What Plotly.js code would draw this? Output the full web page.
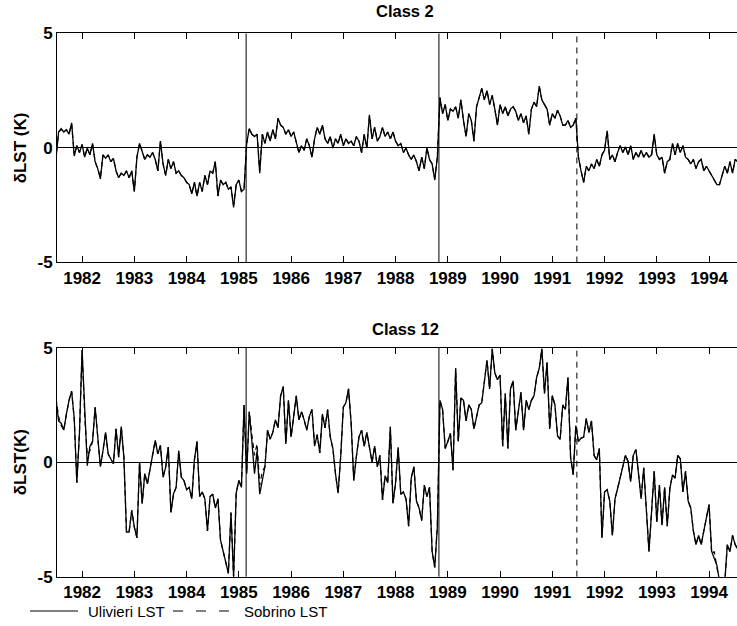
<!DOCTYPE html>
<html><head><meta charset="utf-8">
<script src="https://cdn.plot.ly/plotly-3.0.1.min.js"></script>
<style>html,body{margin:0;padding:0;background:#fff;} #chart{width:737px;height:626px;}</style>
</head><body><div id="chart"></div>
<script>
// sampling of the series (years)
const startYear = 1981.5;
const stepYear = 0.05;

// Class 2, Ulivieri LST (K)
const class2Ulivieri = [
 -0.5,0.7,0.85,0.7,0.8,0.6,1.1,-0.35,0.1,-0.2,
 0.15,-0.4,0.0,-0.3,0.2,-0.6,-0.9,-1.35,-0.3,-0.45,-0.3,-0.6,-0.45,-1.0,-1.3,-1.1,-1.2,-1.0,-1.3,-1.0,
 -1.9,-0.4,0.2,-0.2,-0.5,-0.3,-0.4,-0.2,-0.5,-1.0,0.3,-0.7,-1.2,-0.5,-0.9,-0.6,-1.1,-1.0,-1.2,-1.3,
 -1.5,-1.6,-2.0,-1.5,-2.1,-1.5,-1.9,-1.2,-1.6,-1.0,-1.1,-0.6,-2.1,-1.4,-1.6,-1.5,-1.8,-1.7,-2.6,-1.6,
 -1.4,-1.9,-1.8,0.2,0.85,0.6,0.5,0.6,-1.1,0.6,0.2,0.7,0.3,0.8,0.4,1.3,1.0,0.9,0.6,0.8,
 0.5,0.7,0.2,-0.2,0.1,-0.1,0.4,0.1,-0.4,0.4,0.9,0.6,1.0,0.4,0.2,0.5,0.0,0.4,0.2,0.6,
 0.1,0.4,0.2,0.3,0.1,0.5,0.3,-0.2,0.6,0.0,1.45,0.4,0.9,0.3,0.5,0.9,0.5,0.7,0.4,0.7,
 0.3,0.1,0.2,-0.2,0.0,-0.3,-0.5,-0.3,-0.6,-1.0,-0.4,-0.9,0.0,-0.5,-0.7,-1.4,-0.4,2.2,1.5,1.9,
 1.2,1.7,1.6,1.8,1.3,2.1,1.2,0.5,1.5,1.2,0.3,1.8,2.2,2.6,2.1,2.5,1.9,2.3,1.7,1.0,
 1.9,1.5,1.8,1.4,1.7,1.8,1.6,1.2,1.5,1.1,1.4,0.6,1.7,2.0,1.8,2.7,2.1,1.9,1.7,1.0,
 1.5,1.3,1.65,1.4,1.0,1.0,1.2,0.9,1.0,1.3,-0.4,-1.0,-1.5,-0.8,-1.0,-0.7,-0.9,-0.5,-0.8,-0.3,
 -0.1,0.75,-0.5,-0.3,-0.6,-0.2,0.1,-0.2,0.05,-0.3,0.1,-0.5,-0.2,-0.4,-0.1,-0.4,-0.2,-0.4,-0.3,0.6,
 -0.3,-0.5,-0.4,-1.1,-0.6,-0.5,0.2,-0.3,0.2,-0.2,0.1,-0.4,-0.5,-0.7,-0.5,-0.9,-0.6,-0.5,-1.0,-0.8,
 -1.0,-1.2,-1.4,-1.6,-1.6,-1.2,-0.8,-1.1,-0.6,-1.1,-0.5,-0.6
];

// Class 2, Sobrino LST (K)
const class2Sobrino = [
 -0.5,0.7,0.8,0.7,0.8,0.6,1.05,-0.3,0.1,-0.2,
 0.15,-0.4,0.0,-0.3,0.2,-0.6,-0.9,-1.3,-0.3,-0.45,-0.3,-0.6,-0.45,-1.0,-1.3,-1.1,-1.2,-1.0,-1.3,-1.0,
 -1.9,-0.4,0.2,-0.2,-0.5,-0.3,-0.4,-0.2,-0.5,-1.0,0.3,-0.7,-1.2,-0.5,-0.9,-0.6,-1.1,-1.0,-1.2,-1.3,
 -1.5,-1.6,-2.0,-1.5,-2.1,-1.5,-1.9,-1.2,-1.6,-1.0,-1.1,-0.6,-2.1,-1.4,-1.6,-1.5,-1.8,-1.7,-2.5,-1.6,
 -1.4,-1.9,-1.8,0.2,0.85,0.6,0.5,0.6,-1.0,0.6,0.2,0.7,0.3,0.8,0.4,1.3,1.0,0.9,0.6,0.8,
 0.5,0.7,0.2,-0.2,0.1,-0.1,0.4,0.1,-0.4,0.4,0.9,0.6,1.0,0.4,0.2,0.5,0.0,0.4,0.2,0.6,
 0.1,0.4,0.2,0.3,0.1,0.5,0.3,-0.2,0.6,0.0,1.4,0.4,0.9,0.3,0.5,0.9,0.5,0.7,0.4,0.7,
 0.3,0.1,0.2,-0.2,0.0,-0.3,-0.5,-0.3,-0.6,-1.0,-0.4,-0.9,0.0,-0.5,-0.7,-1.35,-0.4,2.2,1.5,1.9,
 1.2,1.7,1.6,1.8,1.3,2.1,1.2,0.5,1.5,1.2,0.3,1.8,2.2,2.6,2.1,2.5,1.9,2.3,1.7,1.0,
 1.9,1.5,1.8,1.4,1.7,1.8,1.6,1.2,1.5,1.1,1.4,0.6,1.7,2.0,1.8,2.7,2.1,1.9,1.7,1.0,
 1.5,1.3,1.65,1.4,1.0,1.0,1.2,0.9,1.0,1.3,-0.4,-1.0,-1.5,-0.8,-1.0,-0.7,-0.9,-0.5,-0.8,-0.3,
 -0.1,0.75,-0.5,-0.3,-0.6,-0.2,0.1,-0.2,0.05,-0.3,0.1,-0.5,-0.2,-0.4,-0.1,-0.4,-0.2,-0.4,-0.3,0.6,
 -0.3,-0.5,-0.4,-1.1,-0.6,-0.5,0.2,-0.3,0.2,-0.2,0.1,-0.4,-0.5,-0.7,-0.5,-0.9,-0.6,-0.5,-1.0,-0.8,
 -1.0,-1.2,-1.4,-1.6,-1.6,-1.2,-0.8,-1.1,-0.6,-1.1,-0.5,-0.6
];

// Class 12, Ulivieri LST (K)
const class12Ulivieri = [
 2.8,1.8,1.7,1.4,2.1,2.7,3.1,1.9,-0.9,1.3,
 4.9,2.0,-0.15,0.7,0.9,2.4,1.1,-0.2,0.5,1.3,0.36,0.15,-0.07,1.46,0.22,1.55,0.22,-3.05,-3.05,-2.1,
 -2.84,-3.3,0.0,-1.8,-0.5,-0.95,-0.3,0.36,0.95,0.36,0.73,-0.66,-0.22,0.66,-2.2,-1.38,-1.1,0.5,-0.66,-0.8,
 -1.2,-1.1,-1.6,0.1,0.9,-1.5,-1.3,-1.6,-3.0,-1.5,-1.4,-2.0,-1.6,-3.4,-3.9,-4.3,-4.85,-2.2,-5.0,-1.35,
 -0.8,-1.1,2.5,-0.5,2.2,0.9,-0.5,0.5,-1.4,-0.8,-0.2,1.4,1.0,1.3,1.85,1.5,2.9,3.3,0.8,2.7,
 1.1,2.0,2.9,1.85,2.2,1.85,1.4,2.0,2.3,0.7,1.2,0.4,2.1,1.5,2.3,1.1,0.6,-0.5,-1.35,0.25,
 2.4,2.6,3.2,1.7,-0.8,0.25,1.1,1.4,0.7,1.3,0.55,0.0,0.7,-0.2,0.3,-1.65,-0.6,-0.9,1.55,-1.8,
 -0.9,0.65,-1.4,-1.3,-1.6,-2.8,-0.7,-0.2,-1.7,-2.0,-2.55,-1.0,-1.5,-1.1,-3.9,-4.6,-2.8,2.7,2.3,0.6,
 0.9,1.25,-0.35,4.1,0.9,2.8,2.7,1.8,2.5,2.3,1.45,2.0,2.5,2.6,3.6,4.45,3.2,4.95,3.9,3.6,
 3.8,0.7,3.0,0.6,3.2,3.55,1.4,2.3,3.05,1.4,2.7,2.3,2.7,2.9,3.7,4.1,4.95,3.0,4.35,1.45,
 2.9,2.5,1.15,1.0,2.5,2.3,3.7,0.2,-0.55,1.6,0.9,1.05,1.1,1.9,1.3,1.8,0.3,0.1,0.6,-3.3,
 -1.3,-1.2,-1.7,-3.2,-1.6,-1.15,-0.7,-0.2,0.3,0.03,-0.85,0.3,0.55,-0.5,-1.6,-0.25,-1.85,-3.9,-2.15,-0.4,
 -2.6,-1.0,-2.75,-1.1,-2.8,-1.15,-0.55,-0.7,0.3,0.15,-1.3,-0.4,-1.7,-2.0,-3.0,-3.6,-3.2,-3.6,-3.0,-2.4,
 -1.85,-3.9,-4.2,-4.5,-5.2,-5.3,-5.3,-3.6,-3.9,-3.2,-3.6,-3.8
];

// Class 12, Sobrino LST (K)
const class12Sobrino = [
 2.8,2.0,1.6,1.4,2.1,2.7,3.1,1.9,-0.9,1.3,
 4.9,2.0,0.3,0.5,0.9,2.4,1.1,-0.2,0.5,1.3,0.36,0.15,-0.07,1.46,0.22,1.55,0.22,-3.05,-3.05,-2.1,
 -2.84,-3.3,0.0,-1.8,-0.5,-0.95,-0.3,0.36,0.95,0.36,0.73,-0.66,-0.22,0.66,-2.2,-1.38,-1.1,0.5,-0.66,-0.8,
 -1.2,-1.1,-1.6,0.1,0.9,-1.5,-1.3,-1.6,-3.0,-1.5,-1.4,-2.0,-1.6,-3.4,-3.9,-4.3,-4.85,-2.2,-5.0,-1.35,
 -0.8,-1.1,2.5,-0.5,2.2,1.2,0.3,0.8,-1.0,-0.4,-0.2,1.4,1.0,1.3,1.85,1.5,2.9,3.3,0.8,2.7,
 1.1,2.0,2.9,1.85,2.2,1.85,1.4,2.0,2.3,0.8,1.2,0.4,2.1,1.5,2.3,1.1,0.6,-0.5,-1.35,0.25,
 2.4,2.6,3.2,1.7,-0.8,0.25,1.1,1.4,0.7,1.3,0.55,0.0,0.7,-0.2,0.3,-1.65,-0.6,-0.9,1.55,-1.8,
 -0.9,0.65,-1.4,-1.3,-1.6,-2.8,-0.7,-0.2,-1.7,-2.0,-2.55,-1.0,-1.5,-1.1,-3.9,-4.6,-2.8,2.7,2.3,0.6,
 0.9,1.25,-0.35,4.1,0.9,2.8,2.7,1.8,2.5,2.3,1.45,2.0,2.5,2.6,3.6,4.45,3.2,4.95,3.9,3.6,
 3.8,0.7,3.0,0.6,3.2,3.55,1.4,2.3,3.05,1.4,2.7,2.3,2.7,2.9,3.7,4.1,4.95,3.0,4.35,1.45,
 2.9,2.5,1.15,1.0,2.5,2.3,3.7,0.2,-0.55,1.6,0.9,1.05,1.1,1.9,1.3,1.8,0.3,0.1,0.6,-3.3,
 -1.3,-1.2,-1.7,-3.2,-1.6,-1.15,-0.7,-0.2,0.3,0.03,-0.85,0.3,0.55,-0.5,-1.6,-0.25,-1.85,-3.9,-2.15,-0.4,
 -2.6,-1.0,-2.75,-1.1,-2.8,-1.15,-0.55,-0.7,0.3,0.15,-1.3,-0.4,-1.7,-2.0,-3.0,-3.6,-3.2,-3.6,-3.0,-2.4,
 -1.85,-4.0,-3.9,-4.6,-5.2,-5.3,-5.3,-3.6,-3.9,-3.2,-3.6,-3.8
];

const yearTicks = [1982,1983,1984,1985,1986,1987,1988,1989,1990,1991,1992,1993,1994];
const yTickVals = [-5,0,5];
const yTickText = ['-5','0','5'];
const solidBreakYears = [1985.14, 1988.83];
const dashedBreakYears = [1991.47];
const panelTitles = ['Class 2','Class 12'];
const yTitles = ['\u03b4LST (K)','\u03b4LST(K)'];
const seriesNames = ['Ulivieri LST','Sobrino LST'];

function yearsFor(vals){ return vals.map((_,i)=> +(startYear + i*stepYear).toFixed(2)); }

const FONT = 'Liberation Sans, Arial, Helvetica, sans-serif';
const BLACK = '#000';
const SOBRINO_DASH = '5px,4px';

const data = [
 {x:yearsFor(class2Ulivieri), y:class2Ulivieri, xaxis:'x', yaxis:'y', type:'scatter', mode:'lines', name:seriesNames[0], line:{color:BLACK,width:1.3}},
 {x:yearsFor(class2Sobrino), y:class2Sobrino, xaxis:'x', yaxis:'y', type:'scatter', mode:'lines', name:seriesNames[1], line:{color:BLACK,width:1.2,dash:SOBRINO_DASH}},
 {x:yearsFor(class12Ulivieri), y:class12Ulivieri, xaxis:'x2', yaxis:'y2', type:'scatter', mode:'lines', name:seriesNames[0], line:{color:BLACK,width:1.3}},
 {x:yearsFor(class12Sobrino), y:class12Sobrino, xaxis:'x2', yaxis:'y2', type:'scatter', mode:'lines', name:seriesNames[1], line:{color:BLACK,width:1.2,dash:SOBRINO_DASH}}
];

const tickFont = {family:FONT, size:17, color:BLACK, weight:'bold'};
function xAxis(anchor){
  return {anchor:anchor, domain:[0,1], range:[1981.52,1994.535], tickmode:'array', tickvals:yearTicks,
    ticks:'inside', ticklen:6, tickwidth:1, tickcolor:BLACK, showline:true, linecolor:BLACK, linewidth:1,
    mirror:'ticks', showgrid:false, zeroline:false, tickfont:tickFont};
}
function yAxis(anchor, dom, title){
  return {anchor:anchor, domain:dom, range:[-5,5], tickmode:'array', tickvals:yTickVals, ticktext:yTickText,
    ticks:'', showline:true, linecolor:BLACK, linewidth:1, mirror:false, showgrid:false,
    zeroline:true, zerolinecolor:BLACK, zerolinewidth:1, tickfont:tickFont,
    title:{text:title, font:{family:FONT, size:17, color:BLACK, weight:'bold'}, standoff:6}};
}

// pixel -> paper helpers for the hand-placed legend (plot area spans x 57..737, full height)
const px = v => (v - 57) / 680;
const py = v => (626 - v) / 626;

const shapes = [];
['x','x2'].forEach((xr,k)=>{
  const yr = k===0 ? 'y domain' : 'y2 domain';
  solidBreakYears.forEach(v=>shapes.push({type:'line', xref:xr, yref:yr, x0:v, x1:v, y0:0, y1:1, line:{color:BLACK,width:1}}));
  dashedBreakYears.forEach(v=>shapes.push({type:'line', xref:xr, yref:yr, x0:v, x1:v, y0:0, y1:1, line:{color:BLACK,width:1,dash:'6px,5px'}}));
});
// legend samples
shapes.push({type:'line', xref:'paper', yref:'paper', x0:px(30), x1:px(78), y0:py(611), y1:py(611), line:{color:BLACK,width:1}});
shapes.push({type:'line', xref:'paper', yref:'paper', x0:px(173), x1:px(231), y0:py(611), y1:py(611), line:{color:BLACK,width:1,dash:'10px,13px'}});

const layout = {
  width:737, height:626, margin:{l:57, r:0, t:0, b:0},
  paper_bgcolor:'#fff', plot_bgcolor:'#fff',
  showlegend:false,
  xaxis:xAxis('y'), yaxis:yAxis('x',[0.5807,0.9465],yTitles[0]),
  xaxis2:xAxis('y2'), yaxis2:yAxis('x2',[0.0788,0.4446],yTitles[1]),
  shapes:shapes,
  annotations:[
    {text:panelTitles[0], xref:'paper', yref:'paper', x:0.512, y:0.982, showarrow:false, xanchor:'center', yanchor:'middle', font:{family:FONT,size:16.5,color:BLACK,weight:'bold'}},
    {text:panelTitles[1], xref:'paper', yref:'paper', x:0.512, y:0.474, showarrow:false, xanchor:'center', yanchor:'middle', font:{family:FONT,size:16.5,color:BLACK,weight:'bold'}},
    {text:seriesNames[0], xref:'paper', yref:'paper', x:px(86), y:py(611), showarrow:false, xanchor:'left', yanchor:'middle', font:{family:FONT,size:15,color:BLACK}},
    {text:seriesNames[1], xref:'paper', yref:'paper', x:px(242), y:py(611), showarrow:false, xanchor:'left', yanchor:'middle', font:{family:FONT,size:15,color:BLACK}}
  ]
};

Plotly.newPlot('chart', data, layout, {staticPlot:true, displayModeBar:false});
</script>
</body></html>
